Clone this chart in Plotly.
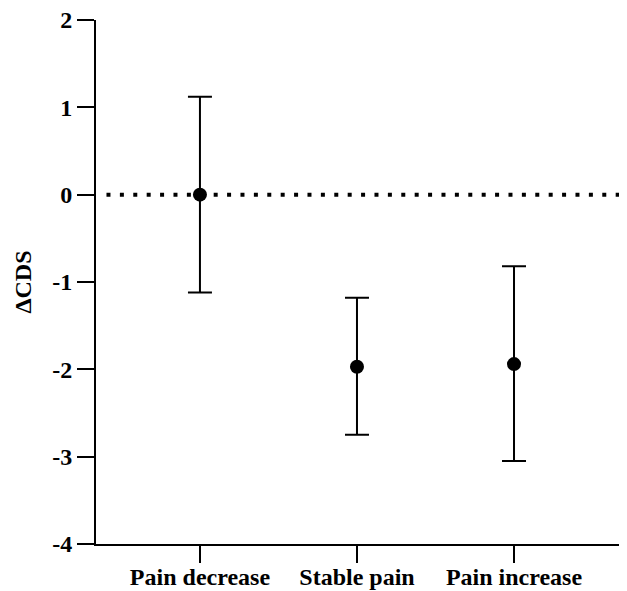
import plotly.graph_objects as go

categories = ["Pain decrease", "Stable pain", "Pain increase"]
means = [0.0, -1.97, -1.94]
upper = [1.12, -1.18, -0.82]
lower = [-1.12, -2.75, -3.05]
y_ticks = [2, 1, 0, -1, -2, -3, -4]

xpos = list(range(len(categories)))
err_plus = [u - m for u, m in zip(upper, means)]
err_minus = [m - l for m, l in zip(means, lower)]

FONT = "Liberation Serif"

fig = go.Figure()

# dotted reference line at y = 0
fig.add_shape(type="line", xref="paper", yref="y", x0=0.02, x1=1, y0=0, y1=0,
              line=dict(color="black", width=4, dash="4px,9.4px"), layer="below")

fig.add_trace(go.Scatter(
    x=xpos, y=means, mode="markers",
    marker=dict(color="black", size=14),
    error_y=dict(type="data", symmetric=False, array=err_plus, arrayminus=err_minus,
                 color="black", thickness=2, width=12),
    showlegend=False,
))

fig.update_layout(
    width=619, height=583,
    margin=dict(l=88, r=7, t=12, b=47),
    plot_bgcolor="white", paper_bgcolor="white",
    font=dict(family=FONT, color="black", size=24),
)
fig.update_xaxes(
    range=[-0.662, 2.675], tickvals=xpos, ticktext=categories,
    showline=True, linecolor="black", linewidth=2,
    ticks="outside", ticklen=17, tickwidth=2, tickcolor="black",
    showgrid=False, zeroline=False, automargin=False,
    ticklabeloverflow="allow", ticklabelstandoff=-7,
    tickfont=dict(family=FONT, size=24, color="black", weight="bold"),
)
fig.update_yaxes(
    range=[-4, 2], tickvals=y_ticks, ticktext=[str(v) for v in y_ticks],
    showline=True, linecolor="black", linewidth=2,
    ticks="outside", ticklen=17, tickwidth=2, tickcolor="black",
    showgrid=False, zeroline=False, automargin=False,
    ticklabeloverflow="allow",
    tickfont=dict(family=FONT, size=24, color="black", weight="bold"),
    title=dict(text="ΔCDS", font=dict(family=FONT, size=24, color="black", weight="bold"), standoff=14),
)

fig.write_html("out.html")
